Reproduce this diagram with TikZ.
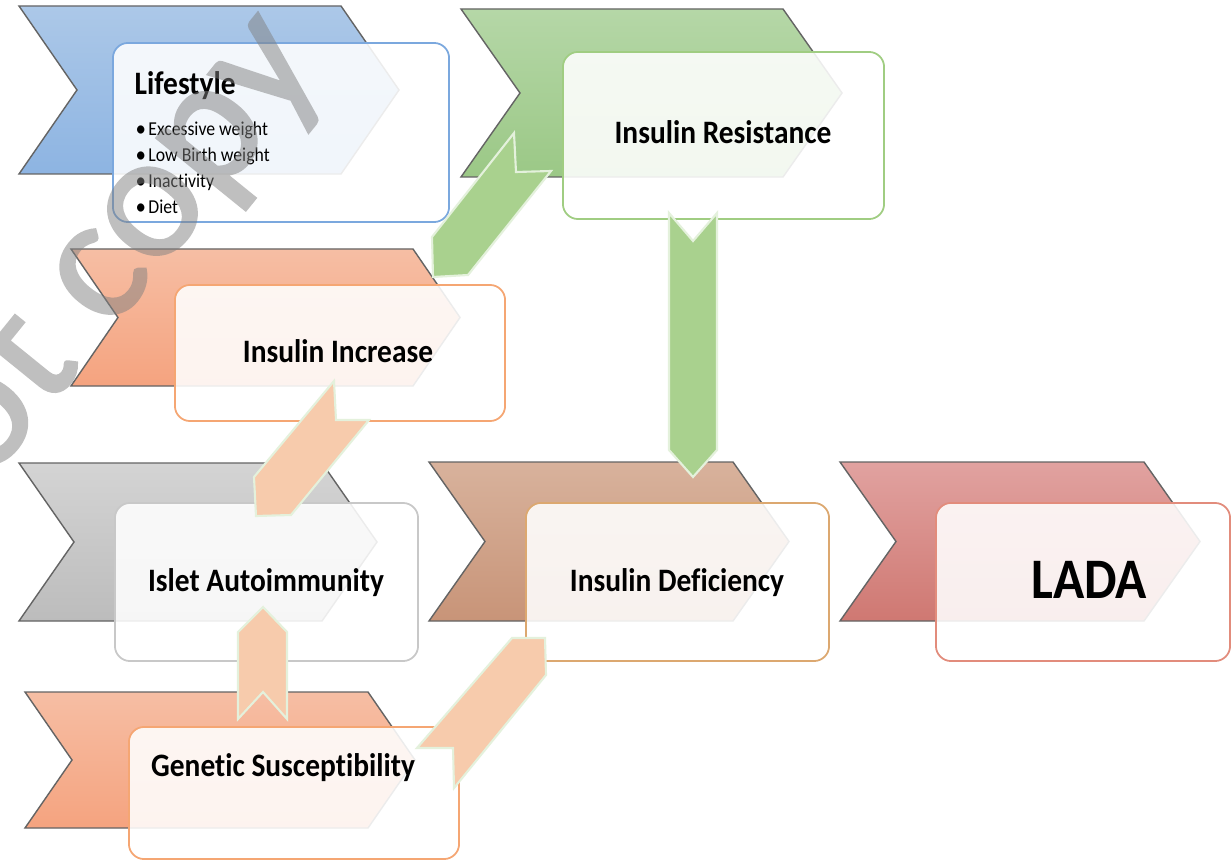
\documentclass[tikz,border=0pt]{standalone}
\usepackage{fontspec}
\setmainfont{Carlito}[Ligatures=NoCommon]
\newfontfamily\labelfont{Carlito}[FakeStretch=0.9, Ligatures=NoCommon]
\newfontfamily\markfont{Carlito}[FakeBold=1.5]

% chevron shading
\definecolor{blueTop}{RGB}{172,200,232}\definecolor{blueBot}{RGB}{141,180,226}
\definecolor{greenTop}{RGB}{181,215,167}\definecolor{greenBot}{RGB}{155,200,134}
\definecolor{orangeTop}{RGB}{246,190,164}\definecolor{orangeBot}{RGB}{245,163,127}
\definecolor{grayTop}{RGB}{212,212,212}\definecolor{grayBot}{RGB}{188,188,188}
\definecolor{brownTop}{RGB}{216,178,156}\definecolor{brownBot}{RGB}{200,148,120}
\definecolor{redTop}{RGB}{225,162,160}\definecolor{redBot}{RGB}{207,120,114}
\definecolor{chevEdge}{RGB}{100,100,100}
% card borders
\definecolor{edgeBlue}{RGB}{123,168,222}
\definecolor{edgeGreen}{RGB}{160,205,130}
\definecolor{edgeOrange}{RGB}{245,166,115}
\definecolor{edgeGray}{RGB}{200,200,200}
\definecolor{edgeTan}{RGB}{220,168,112}
\definecolor{edgeRed}{RGB}{226,140,124}
% block arrows
\definecolor{arrowGreen}{RGB}{169,209,142}
\definecolor{arrowPeach}{RGB}{247,203,172}
\definecolor{arrowRim}{RGB}{228,241,220}

% chevron: left, top, bottom, right shoulder, depth, top colour, bottom colour
\newcommand\chevshape[7]{%
  \path[chevline, top color=#6, bottom color=#7]
    (#1,#2) -- (#4,#2) -- ({#4+#5},{(#2+#3)/2}) -- (#4,#3) -- (#1,#3)
    -- ({#1+#5},{(#2+#3)/2}) -- cycle;}
% list bullet
\newcommand\itembullet{\makebox[3.6pt][l]{\fontsize{6.6}{7}\selectfont\raisebox{-0.05ex}{•}}}

\tikzset{
  chevline/.style={draw=chevEdge, line width=0.4pt},
  card/.style={rectangle, draw=#1, line width=0.5pt, rounded corners=4.3pt,
    fill=white, fill opacity=0.88, draw opacity=1, inner sep=0pt},
  steplabel/.style={font=\labelfont\bfseries\fontsize{9.3}{11}\selectfont,
    inner sep=0pt, anchor=base},
  itemtext/.style={font=\labelfont\fontsize{5.6}{7}\selectfont,
    inner sep=0pt, anchor=base west},
  greenarrow/.style={fill=arrowGreen, draw=arrowRim, line width=0.6pt},
  peacharrow/.style={fill=arrowPeach, draw=arrowRim, line width=0.6pt},
  stamp/.style={font=\markfont\fontsize{51}{51}\selectfont, text=black!50,
    inner sep=0pt}
}

\begin{document}
\begin{tikzpicture}[x=0.01cm, y=-0.01cm]
\useasboundingbox (0,0) rectangle (1231,861);
\clip (0,0) rectangle (1231,861);
\fill[white] (0,0) rectangle (1231,861);

% background chevrons
\chevshape{19}{6}{174}{341}{58}{blueTop}{blueBot}
\chevshape{461}{9}{177}{783}{59}{greenTop}{greenBot}
\chevshape{71}{249}{386}{413}{47}{orangeTop}{orangeBot}
\chevshape{19}{463}{621}{322}{55}{grayTop}{grayBot}
\chevshape{25}{692}{828}{368}{47}{orangeTop}{orangeBot}
\chevshape{429}{462}{621}{733}{56}{brownTop}{brownBot}
\chevshape{840}{462}{621}{1144}{56}{redTop}{redBot}

% translucent cards
\node[card=edgeBlue,   minimum width=3.36cm, minimum height=1.79cm] (lifestyle) at (281,132.5) {};
\node[card=edgeGreen,  minimum width=3.21cm, minimum height=1.67cm] (resist)    at (723.5,135.5) {};
\node[card=edgeOrange, minimum width=3.30cm, minimum height=1.36cm] (increase)  at (340,353) {};
\node[card=edgeGray,   minimum width=3.03cm, minimum height=1.58cm] (islet)     at (266.5,582) {};
\node[card=edgeOrange, minimum width=3.30cm, minimum height=1.32cm] (genetic)   at (294,793) {};
\node[card=edgeTan,    minimum width=3.03cm, minimum height=1.58cm] (deficit)   at (677.5,582) {};
\node[card=edgeRed,    minimum width=2.94cm, minimum height=1.58cm] (lada)      at (1083,582) {};

% card texts
\node[steplabel, anchor=base west] (lifestyle-title) at (134,95) {Lifestyle};
\node[itemtext] (item-1) at (135,136) {\itembullet Excessive weight};
\node[itemtext] (item-2) at (135,162) {\itembullet Low Birth weight};
\node[itemtext] (item-3) at (135,188) {\itembullet Inactivity};
\node[itemtext] (item-4) at (135,214) {\itembullet Diet};
\node[steplabel] (resist-text)   at (723,144) {Insulin Resistance};
\node[steplabel] (increase-text) at (338,362) {Insulin Increase};
\node[steplabel] (islet-text)    at (266,591) {Islet Autoimmunity};
\node[steplabel] (deficit-text)  at (677,591) {Insulin Deficiency};
\node[steplabel] (genetic-text)  at (283,776) {Genetic Susceptibility};
\node[steplabel, font=\labelfont\bfseries\fontsize{16.3}{18}\selectfont] (lada-text) at (1089,598) {LADA};

% notched block arrows between the cards
% resistance -> increase
\path[greenarrow] (514,133) -- (516,172) -- (551,171) -- (468,275) -- (433,277) -- (432,237) -- cycle;
% resistance -> deficiency
\path[greenarrow] (669,213) -- (693,241) -- (717,213) -- (717,450) -- (693,477) -- (669,450) -- cycle;
% increase -> islet autoimmunity
\path[peacharrow] (334,381) -- (336,420) -- (369,420) -- (291,515) -- (256,516) -- (254,477) -- cycle;
% genetic -> islet autoimmunity
\path[peacharrow] (238,719) -- (263,692) -- (287,719) -- (287,632) -- (263,607) -- (238,632) -- cycle;
% genetic -> deficiency
\path[peacharrow] (417,748) -- (453,748) -- (454,788) -- (546,675) -- (545,638) -- (512,638) -- cycle;

% translucent stamp across the upper left
\begin{scope}[transparency group, opacity=0.5]
\node[stamp, rotate=51, anchor=base west] (stamp) at (-87,575) {Not copy};
\end{scope}
\end{tikzpicture}
\end{document}
